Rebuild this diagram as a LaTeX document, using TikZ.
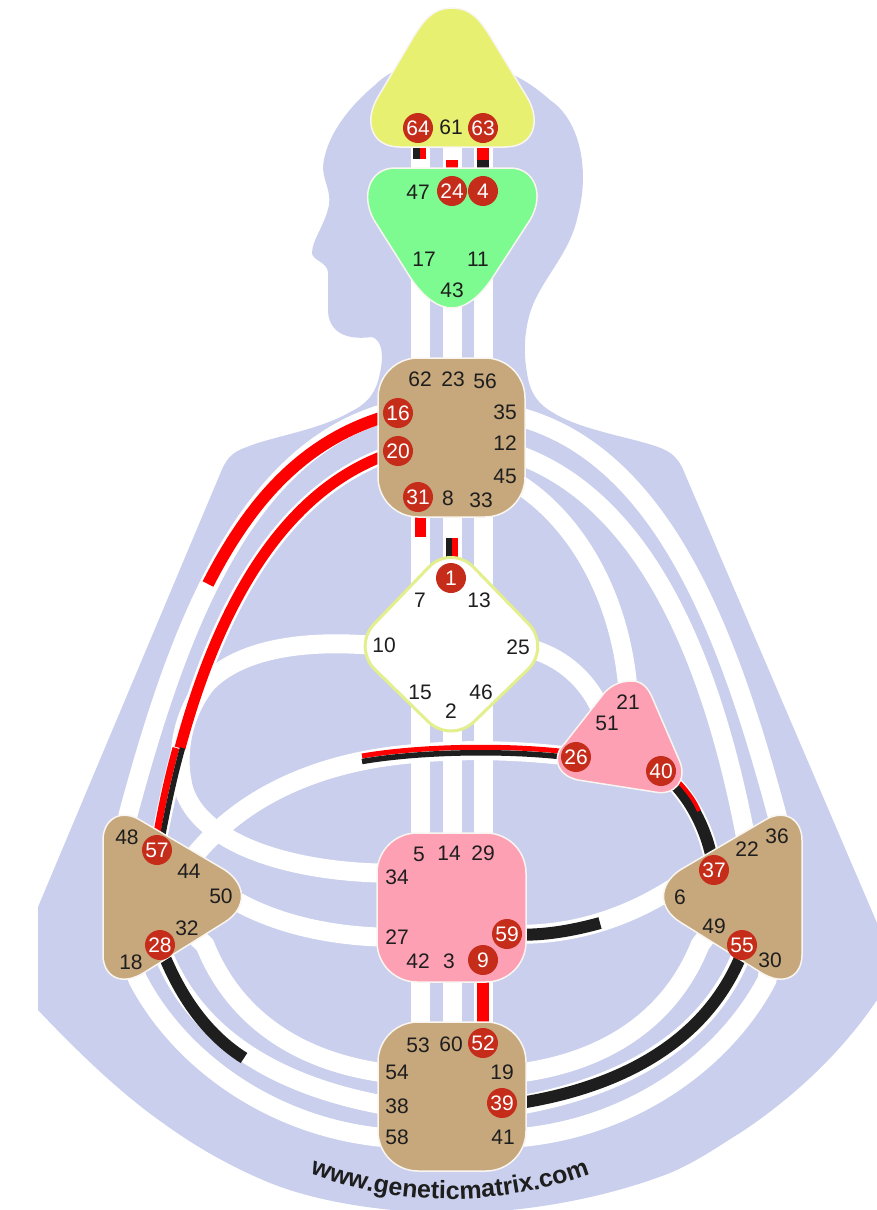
\documentclass[tikz,border=0pt]{standalone}
\usepackage{fontspec}
\setmainfont{Liberation Sans}
\usetikzlibrary{decorations.text}
\pgfdeclarelayer{sil}\pgfdeclarelayer{chan}\pgfdeclarelayer{ctr}
\pgfsetlayers{sil,chan,ctr,main}
\definecolor{lav}{HTML}{C9CFEC}
\definecolor{headc}{HTML}{E8F072}
\definecolor{ajnac}{HTML}{7DFB90}
\definecolor{tanc}{HTML}{C7A77C}
\definecolor{pinkc}{HTML}{FDA0B4}
\definecolor{gatec}{HTML}{C62C1A}
\definecolor{redc}{HTML}{FF0000}
\definecolor{blk}{HTML}{1E1E1E}
\definecolor{gring}{HTML}{E3EE8C}
\tikzset{
 num/.style={inner sep=0pt,text=blk,font=\fontsize{21}{21}\selectfont},
 gatenode/.style={circle,fill=gatec,minimum size=30pt,inner sep=0pt,text=white,font=\fontsize{21}{21}\selectfont},
 band/.style={draw=white,line width=19pt},
 thick band/.style={draw=white,line width=16pt},
 redline/.style={draw=redc,line width=11pt},
 blkline/.style={draw=blk,line width=12pt},
 centre/.style={draw=white!90!tanc,line width=1.5pt},
}
\begin{document}
\begin{tikzpicture}[x=1pt,y=-1pt]
\useasboundingbox (0,0) rectangle (877,1210);
% labels and gates
\foreach \n/\x/\y in {61/451/127,47/418/192,17/424/259,11/478/259,43/452/290,
 62/420/379,23/453/379,56/485/381,35/505/412,12/505/443,45/505/476,33/481/500,8/448/498,
 7/420/600,13/479/600,10/384/645,25/518/647,15/420/692,46/481/692,2/451/711,
 21/628/702,51/607/723,
 5/419/854,14/449/853,29/483/853,34/397/877,27/397/937,42/418/961,3/449/961,
 53/418/1045,60/451/1044,54/397/1072,19/502/1072,38/397/1106,58/397/1137,41/503/1137,
 48/127/837,44/189/871,50/221/896,32/187/928,18/131/962,
 36/777/836,22/747/849,6/680/897,49/714/926,30/770/960}
 {\node[num] (g\n) at (\x,\y) {\n};}
\foreach \n/\x/\y in {64/418/128,63/483/128,24/452/191,4/483/191,31/418/497,16/398/413,20/398/451,
 1/451/578,26/576/757,40/661/771,9/483/960,59/507/934,52/483/1043,39/502/1103,
 57/157/850,28/160/945,37/714/870,55/742/945}
 {\node[gatenode] (g\n) at (\x,\y) {\n};}
\path[decorate,decoration={text along path,text align=center,
 text={|\fontsize{25}{25}\selectfont\bfseries\color{blk}|www.geneticmatrix.com}}]
 (305,1172) .. controls (400,1208) and (500,1208) .. (595,1172);
% silhouette
\begin{pgfonlayer}{sil}
\fill[lav] (452,60) .. controls (410,62) and (390,70) .. (375,85) .. controls (345,110) and (325,140) .. (323,167)
 .. controls (323,180) and (331,190) .. (329,205) .. controls (325,225) and (312,240) .. (312,253)
 .. controls (312,260) and (327,262) .. (328,272) -- (328,312) .. controls (330,335) and (350,340) .. (372,337)
 .. controls (382,340) and (384,355) .. (380,373) .. controls (376,395) and (365,405) .. (350,412)
 .. controls (320,430) and (270,437) .. (247,447) .. controls (232,452) and (228,458) .. (223,467)
 -- (38,907) -- (38,1010) .. controls (90,1065) and (130,1100) .. (163,1123)
 .. controls (200,1150) and (235,1168) .. (263,1180) .. controls (320,1205) and (400,1213) .. (452,1213)
 .. controls (520,1213) and (600,1200) .. (670,1173) .. controls (700,1160) and (720,1145) .. (740,1133)
 .. controls (790,1100) and (840,1055) .. (877,1000)
 -- (877,923) -- (682,467) .. controls (677,458) and (672,452) .. (658,447)
 .. controls (630,437) and (580,430) .. (552,412) .. controls (540,405) and (530,395) .. (527,373)
 .. controls (523,350) and (525,330) .. (530,313) .. controls (540,280) and (570,255) .. (578,215)
 .. controls (590,170) and (580,120) .. (550,100) .. controls (530,82) and (500,62) .. (452,60) -- cycle;
\end{pgfonlayer}
% channels
\begin{pgfonlayer}{chan}
\foreach \x in {420,452,483} \draw[band] (\x,125) -- (\x,1060);
% upper right
\draw[band] (g35.center) -- (520,417) .. controls (665,457) and (730,640) .. (777,815) -- (g36.center);
\draw[band] (g12.center) -- (507,451) .. controls (635,490) and (710,640) .. (748,850) -- (g22.center);
\draw[band] (g45.center) .. controls (570,510) and (620,590) .. (628,690) -- (g21.center);
\draw[band] (g25.center) -- (535,650) .. controls (565,660) and (585,680) .. (597,702) -- (g51.center);
% ellipse, 10-34
\draw[band] (g10.center) -- (368,645) .. controls (300,640) and (240,650) .. (208,682)
 .. controls (190,702) and (172,745) .. (184,790) .. controls (200,840) and (280,870) .. (378,873) -- (g34.center);
% 44-26
\draw[band] (g44.center) -- (195,855) .. controls (240,800) and (310,765) .. (400,755)
 .. controls (460,748) and (520,750) .. (g26.center);
% 50-27
\draw[band] (g50.center) -- (238,902) .. controls (280,925) and (330,935) .. (378,937) -- (g27.center);
% 59-6
\draw[band] (g59.center) .. controls (570,937) and (625,918) .. (670,890) -- (g6.center);
% lower left
\draw[band] (g32.center) -- (205,945) .. controls (235,1020) and (300,1060) .. (378,1072) -- (g54.center);
\draw[band] (g28.center) -- (165,958) .. controls (200,1040) and (280,1085) .. (378,1104) -- (g38.center);
\draw[band] (g18.center) -- (138,980) .. controls (180,1060) and (270,1125) .. (378,1137) -- (g58.center);
% lower right
\draw[band] (g49.center) -- (700,945) .. controls (670,1020) and (605,1060) .. (526,1072) -- (g19.center);
\draw[band] (g55.center) -- (740,958) .. controls (705,1040) and (625,1085) .. (526,1104) -- (g39.center);
\draw[band] (g30.center) -- (767,980) .. controls (725,1060) and (635,1125) .. (526,1137) -- (g41.center);
% upper left
\draw[band] (g16.center) -- (385,413) .. controls (240,455) and (175,640) .. (128,815) -- (g48.center);
\draw[thick band] (g20.center) .. controls (270,490) and (195,640) .. (g57.center);
\draw[thick band] (g40.center) .. controls (690,795) and (708,830) .. (g37.center);
% active
\draw[redline,line width=12pt] (g16.center) .. controls (305,436) and (250,502) .. (208,584);
\draw[redline] (g20.center) .. controls (292,483) and (222,592) .. (180,748);
\draw[redc,line width=7pt] (176,748) .. controls (167,780) and (160,814) .. ([xshift=-3pt]g57.center);
\draw[blk,line width=5.5pt] (182.5,748) .. controls (173.5,780) and (166.5,814) .. ([xshift=3pt]g57.center);
% 26
\draw[redc,line width=5pt] (362,756) .. controls (420,746) and (510,744) .. ([yshift=4pt]g26.center);
\draw[blk,line width=5.5pt] (362,761.5) .. controls (420,751.5) and (510,749.5) .. ([yshift=-1.5pt]g26.center);
% 40-37
\draw[blkline] (g40.center) .. controls (690,795) and (708,830) .. (g37.center);
\draw[redc,line width=4pt] (664,767) .. controls (683,785) and (693,797) .. (699,811);
% 59, 28, 55
\draw[blkline] (g59.center) .. controls (540,937) and (575,930) .. (600,923);
\draw[blkline] (g28.center) .. controls (175,985) and (200,1030) .. (244,1058);
\draw[blkline] (g55.center) -- (740,958) .. controls (705,1040) and (625,1085) .. (526,1102) -- (g39.center);
% verticals
\draw[redline,line width=12pt] (g9.center) -- (g52.center);
\draw[redline,line width=11pt] ([xshift=2.5pt]g31.center) -- (420.5,537);
\draw[redc,line width=6pt] (455,578) -- (455,538);
\draw[blk,line width=6pt] (449,578) -- (449,538);
\draw[blk,line width=7pt] (416.5,128) -- (416.5,159);
\draw[redc,line width=6pt] (423,128) -- (423,159);
\draw[redline,line width=11.5pt] (g63.center) -- (483,160);
\draw[blk,line width=11.5pt] (483,160) -- (g4.center);
\draw[redline,line width=12pt] (g24.center) -- (452,160);
\end{pgfonlayer}
% centres
\begin{pgfonlayer}{ctr}
\filldraw[centre,fill=headc] (452,8) .. controls (472,8) and (481,22) .. (490,36) -- (527,97)
 .. controls (541,120) and (535,147) .. (505,147) -- (400,147)
 .. controls (370,147) and (364,120) .. (378,97) -- (414,36) .. controls (423,22) and (432,8) .. (452,8) -- cycle;
\filldraw[centre,fill=ajnac] (395,168) -- (510,168) .. controls (535,168) and (545,195) .. (530,220)
 -- (493,277) .. controls (480,297) and (465,308) .. (452,308) .. controls (438,308) and (423,297) .. (410,277)
 -- (374,220) .. controls (360,195) and (370,168) .. (395,168) -- cycle;
\filldraw[centre,fill=tanc,rounded corners=40pt] (378,358) rectangle (525,517);
\filldraw[draw=gring,line width=3pt,fill=white,rounded corners=32pt] (451,544) -- (551,647) -- (451,744) -- (352,647) -- cycle;
\filldraw[centre,fill=pinkc] (632,681) .. controls (642,681) and (648,688) .. (652,697) -- (680,762)
 .. controls (687,780) and (675,796) .. (655,792) -- (578,780) .. controls (555,775) and (552,755) .. (565,743)
 -- (605,692) .. controls (613,684) and (622,681) .. (632,681) -- cycle;
\filldraw[centre,fill=pinkc,rounded corners=40pt] (377,833) rectangle (526,982);
\filldraw[centre,fill=tanc,rounded corners=40pt] (378,1022) rectangle (526,1171);
\filldraw[centre,fill=tanc] (103,840) .. controls (103,820) and (120,808) .. (140,820) -- (225,870)
 .. controls (247,885) and (247,908) .. (225,922) -- (145,972) .. controls (120,988) and (103,975) .. (103,955) -- cycle;
\filldraw[centre,fill=tanc] (802,840) .. controls (802,820) and (785,808) .. (765,820) -- (680,870)
 .. controls (658,885) and (658,908) .. (680,922) -- (760,972) .. controls (785,988) and (802,975) .. (802,955) -- cycle;
\end{pgfonlayer}
\end{tikzpicture}
\end{document}
